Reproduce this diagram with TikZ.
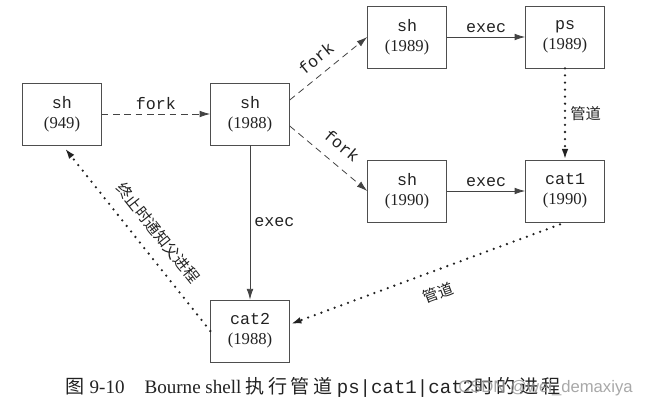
\documentclass[tikz,border=0pt]{standalone}
\usepackage{fontspec}
\setmainfont{Liberation Serif}
\setmonofont{Liberation Mono}
\setsansfont{Liberation Sans}
\newfontfamily\cjk{Noto Sans CJK SC}
\newfontfamily\cjkcap[LetterSpace=18]{Noto Sans CJK SC}
\usetikzlibrary{arrows.meta,calc}
\definecolor{ink}{HTML}{222222}
\begin{document}
\begin{tikzpicture}[x=0.75pt,y=-0.75pt,
  proc/.style={draw=ink!80, line width=0.6pt, minimum width=59pt, minimum height=46.5pt,
    align=center, text=ink, font=\fontsize{12.5}{15}\selectfont, inner sep=0pt},
  arr/.style={-{Latex[length=8pt,width=5pt]}},
  forkline/.style={arr, draw=ink!85, dash pattern=on 5pt off 3.5pt, line width=0.6pt},
  execline/.style={arr, draw=ink!85, line width=0.6pt},
  pipeline/.style={arr, draw=ink, line width=1.9pt, dash pattern=on 0pt off 5.3pt, line cap=round},
  lbl/.style={font=\ttfamily\fontsize{12.5}{15}\selectfont, text=ink, inner sep=3pt},
  cjklbl/.style={font=\cjk\fontsize{11.5}{13}\selectfont, text=ink, inner sep=3pt}]
\useasboundingbox (0,0) rectangle (656,404);

\node[proc] (p949)  at (62,114)  {\texttt{sh}\\(949)};
\node[proc] (p1988) at (250,114) {\texttt{sh}\\(1988)};
\node[proc] (p1989) at (407,37)  {\texttt{sh}\\(1989)};
\node[proc] (ps)    at (565,37)  {\texttt{ps}\\(1989)};
\node[proc] (p1990) at (407,191) {\texttt{sh}\\(1990)};
\node[proc] (cat1)  at (565,191) {\texttt{cat1}\\(1990)};
\node[proc] (cat2)  at (250,331) {\texttt{cat2}\\(1988)};

\draw[forkline] (p949) -- node[above, lbl]{fork} (p1988);
\draw[forkline] ($(p1988.east)+(0,-14)$) -- node[sloped, above=4pt, lbl, pos=0.47]{fork} (p1989.west);
\draw[forkline] ($(p1988.east)+(0,12)$) -- node[sloped, above=6pt, lbl, pos=0.52]{fork} (p1990.west);
\draw[execline] (p1989) -- node[above, lbl]{exec} (ps);
\draw[execline] (p1990) -- node[above, lbl]{exec} (cat1);
\draw[execline] (p1988) -- node[right, lbl]{exec} (cat2);
\draw[pipeline] (ps) -- node[right, cjklbl]{管道} (cat1);
\draw[pipeline] ($(cat1.south)+(-5,2)$) -- node[sloped, below=7pt, cjklbl, pos=0.48]{管道} ($(cat2.east)+(1,-7)$);
\draw[pipeline] (cat2.west) -- node[sloped, above=6pt, cjklbl, pos=0.47]{终止时通知父进程} ($(p949.south)+(3,3)$);

\node[anchor=base west, text=ink, inner sep=0pt, font=\fontsize{14.3}{16}\selectfont] (cap) at (65,393)
  {{\cjk 图}\hspace{4pt}9-10\hspace{15pt}Bourne shell\hspace{3pt}{\cjkcap 执行管道}\hspace{1pt}\texttt{ps|cat1|cat2}{\cjkcap 时的进程}};
\node[anchor=base west, text=gray!80, opacity=0.85, inner sep=0pt, font=\sffamily\fontsize{12.5}{14}\selectfont] (wm) at (458,392) {CSDN @wei\_demaxiya};
\end{tikzpicture}
\end{document}
